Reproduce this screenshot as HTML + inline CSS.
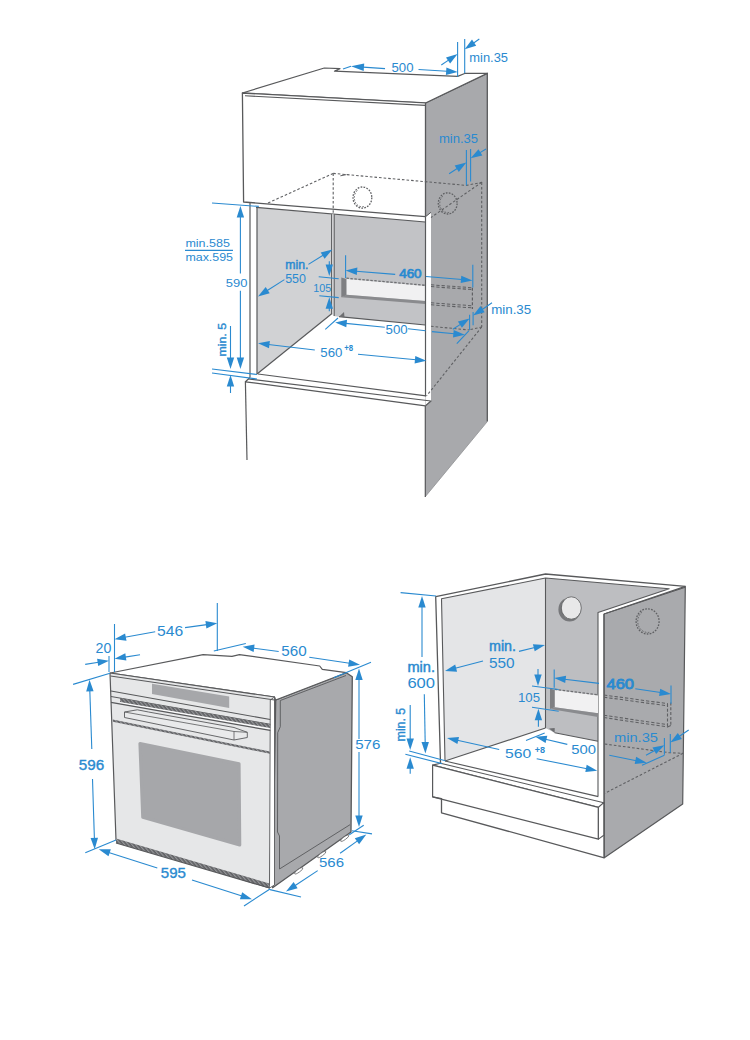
<!DOCTYPE html>
<html><head><meta charset="utf-8"><style>
html,body{margin:0;padding:0;background:#fff;}
svg{display:block;}
text{font-family:"Liberation Sans",sans-serif;}
</style></head><body>
<svg width="750" height="1040" viewBox="0 0 750 1040">
<defs><pattern id="hatch" width="2.8" height="2.8" patternUnits="userSpaceOnUse" patternTransform="rotate(-40)"><rect width="2.8" height="2.8" fill="#5e5f62"/><rect width="1.2" height="2.8" fill="#96979a"/></pattern></defs>
<rect width="750" height="1040" fill="#fff"/>
<polyline points="245.4,381.8 247.0,460.0" fill="none" stroke="#58595b" stroke-width="1.2" stroke-linejoin="round" />
<polygon points="425.5,103.0 487.3,73.3 487.3,421.6 425.0,497.0 425.0,103.0" fill="#a8a9ac" stroke="none" stroke-width="1.2" stroke-linejoin="round" />
<polyline points="425.5,103.0 487.3,73.3 487.3,421.6" fill="none" stroke="#58595b" stroke-width="1.3" stroke-linejoin="round" />
<polyline points="487.3,421.6 425.0,497.0" fill="none" stroke="#8e8f92" stroke-width="0.8" stroke-linejoin="round" />
<polygon points="242.4,93.0 324.3,68.0 340.0,68.6 334.5,71.2 457.6,76.4 465.3,73.3 487.3,73.3 425.5,103.0" fill="#fff" stroke="#58595b" stroke-width="1.2" stroke-linejoin="round" />
<polygon points="242.4,93.0 425.5,102.8 425.5,216.7 243.6,202.0" fill="#fff" stroke="#58595b" stroke-width="1.3" stroke-linejoin="round" />
<polyline points="245.0,95.8 425.5,105.4" fill="none" stroke="#58595b" stroke-width="1.1" stroke-linejoin="round" />
<polygon points="257.0,207.8 332.0,214.2 332.0,313.5 257.0,374.0" fill="#d1d2d4" stroke="none" stroke-width="1.2" stroke-linejoin="round" />
<polygon points="333.5,214.3 425.3,222.0 425.3,325.0 339.0,316.7 333.5,316.0" fill="#c2c3c6" stroke="none" stroke-width="1.2" stroke-linejoin="round" />
<polygon points="346.4,279.0 425.3,286.0 425.3,301.0 346.4,294.7" fill="#f1f1f2" stroke="none" stroke-width="1.2" stroke-linejoin="round" />
<polygon points="341.3,277.5 346.4,279.0 346.4,295.5 341.3,297.3" fill="#7e7f82" stroke="none" stroke-width="1.2" stroke-linejoin="round" />
<polygon points="346.4,294.7 425.3,301.0 425.3,304.0 341.3,297.3" fill="#8a8b8e" stroke="none" stroke-width="1.2" stroke-linejoin="round" />
<polyline points="346.4,278.2 425.3,285.3" fill="none" stroke="#6d6e71" stroke-width="1.3" stroke-linejoin="round" stroke-dasharray="2.5,1.5" />
<polyline points="250.0,203.0 250.0,377.5" fill="none" stroke="#58595b" stroke-width="1.2" stroke-linejoin="round" />
<polyline points="257.0,207.6 257.0,374.0" fill="none" stroke="#58595b" stroke-width="1.2" stroke-linejoin="round" />
<polyline points="256.0,207.3 425.3,222.0" fill="none" stroke="#58595b" stroke-width="1.2" stroke-linejoin="round" />
<polygon points="332.0,214.2 334.0,214.4 334.0,316.0 332.0,314.0" fill="#dcdcde" stroke="none" stroke-width="1.2" stroke-linejoin="round" />
<polyline points="331.6,214.2 331.6,313.8" fill="none" stroke="#58595b" stroke-width="1" stroke-linejoin="round" />
<polyline points="334.2,214.4 334.2,316.0" fill="none" stroke="#58595b" stroke-width="1" stroke-linejoin="round" />
<polyline points="257.0,374.0 332.0,313.5" fill="none" stroke="#58595b" stroke-width="1.2" stroke-linejoin="round" />
<polyline points="339.0,316.7 425.3,325.0" fill="none" stroke="#58595b" stroke-width="1.2" stroke-linejoin="round" />
<polygon points="339.0,316.7 344.0,312.0 344.5,317.2" fill="#6d6e71" stroke="none" stroke-width="1.2" stroke-linejoin="round" />
<polyline points="258.0,374.0 426.0,395.8" fill="none" stroke="#58595b" stroke-width="1.2" stroke-linejoin="round" />
<polygon points="425.5,217.0 431.0,212.3 431.0,401.0 425.5,405.8" fill="#fff" stroke="none" stroke-width="1.2" stroke-linejoin="round" />
<polyline points="425.5,216.5 425.5,396.5" fill="none" stroke="#58595b" stroke-width="1.2" stroke-linejoin="round" />
<polyline points="425.5,216.7 431.0,212.3" fill="none" stroke="#58595b" stroke-width="1" stroke-linejoin="round" />
<polyline points="248.2,379.0 431.0,401.0 425.5,405.8" fill="none" stroke="#58595b" stroke-width="1.2" stroke-linejoin="round" />
<polyline points="250.0,377.5 245.4,381.8 425.5,405.8" fill="none" stroke="#58595b" stroke-width="1.2" stroke-linejoin="round" />
<polyline points="425.3,406.0 425.3,497.0" fill="none" stroke="#58595b" stroke-width="1.2" stroke-linejoin="round" />
<polyline points="268.0,203.0 333.2,173.4" fill="none" stroke="#5f6063" stroke-width="1.1" stroke-linejoin="round" stroke-dasharray="2.6,2" />
<polyline points="333.2,173.4 466.4,185.4 482.2,182.3" fill="none" stroke="#5f6063" stroke-width="1.1" stroke-linejoin="round" stroke-dasharray="2.6,2" />
<polyline points="333.2,173.4 333.2,213.0" fill="none" stroke="#5f6063" stroke-width="1.1" stroke-linejoin="round" stroke-dasharray="2.6,2" />
<polyline points="340.4,175.8 346.4,174.6" fill="none" stroke="#5f6063" stroke-width="1" stroke-linejoin="round" />
<polyline points="481.7,182.3 431.0,217.5" fill="none" stroke="#5f6063" stroke-width="1.1" stroke-linejoin="round" stroke-dasharray="2.6,2" />
<polyline points="481.7,182.3 481.7,327.0" fill="none" stroke="#5f6063" stroke-width="1.1" stroke-linejoin="round" stroke-dasharray="2.6,2" />
<polyline points="431.0,326.3 469.5,330.0" fill="none" stroke="#5f6063" stroke-width="1.1" stroke-linejoin="round" stroke-dasharray="2.6,2" />
<polyline points="470.5,329.5 481.7,327.0" fill="none" stroke="#5f6063" stroke-width="1.1" stroke-linejoin="round" stroke-dasharray="2.6,2" />
<polyline points="481.7,327.0 426.5,396.0" fill="none" stroke="#5f6063" stroke-width="1.1" stroke-linejoin="round" stroke-dasharray="2.6,2" />
<polyline points="431.0,284.8 472.4,287.8" fill="none" stroke="#5f6063" stroke-width="1.05" stroke-linejoin="round" stroke-dasharray="3.3,2" />
<polyline points="431.0,286.6 472.4,289.6" fill="none" stroke="#5f6063" stroke-width="1.05" stroke-linejoin="round" stroke-dasharray="3.3,2" />
<polyline points="431.0,302.8 472.4,305.8" fill="none" stroke="#5f6063" stroke-width="1.05" stroke-linejoin="round" stroke-dasharray="3.3,2" />
<polyline points="431.0,304.8 472.4,307.9" fill="none" stroke="#5f6063" stroke-width="1.05" stroke-linejoin="round" stroke-dasharray="3.3,2" />
<polyline points="472.4,287.8 472.4,309.0" fill="none" stroke="#5f6063" stroke-width="1.2" stroke-linejoin="round" stroke-dasharray="3,1.8" />
<ellipse cx="362.4" cy="197.6" rx="9.4" ry="10.6" fill="none" stroke="#5f6063" stroke-width="1.3" stroke-dasharray="1.7,1.3"/>
<path d="M363.8,206.6 A7.9,9.1 0 0 1 358.4,189.7" fill="none" stroke="#5f6063" stroke-width="1" stroke-dasharray="1.5,1.5"/>
<ellipse cx="447.7" cy="203.4" rx="9.4" ry="10.6" fill="none" stroke="#5f6063" stroke-width="1.3" stroke-dasharray="1.7,1.3"/>
<path d="M449.1,212.4 A7.9,9.1 0 0 1 443.8,195.5" fill="none" stroke="#5f6063" stroke-width="1" stroke-dasharray="1.5,1.5"/>
<polyline points="385.0,68.6 363.0,67.1" fill="none" stroke="#2a8ad0" stroke-width="1.1" stroke-linejoin="round" />
<polygon points="351.0,66.3 364.2,63.5 363.7,70.9" fill="#2a8ad0" stroke="none" stroke-width="1.2" stroke-linejoin="round" />
<polyline points="343.0,69.0 351.0,66.3" fill="none" stroke="#2a8ad0" stroke-width="1.1" stroke-linejoin="round" />
<polyline points="418.5,69.5 447.1,71.3" fill="none" stroke="#2a8ad0" stroke-width="1.1" stroke-linejoin="round" />
<polygon points="457.6,72.0 445.9,75.0 446.4,67.6" fill="#2a8ad0" stroke="none" stroke-width="1.2" stroke-linejoin="round" />
<text x="391.5" y="71.7" font-size="12.5" text-anchor="start" font-weight="normal" fill="#2a8ad0" textLength="22" lengthAdjust="spacingAndGlyphs" >500</text>
<polyline points="457.6,42.0 457.6,76.7" fill="none" stroke="#2a8ad0" stroke-width="1.1" stroke-linejoin="round" />
<polyline points="464.7,39.0 464.7,73.3" fill="none" stroke="#2a8ad0" stroke-width="1.1" stroke-linejoin="round" />
<polyline points="441.3,65.0 448.9,59.9" fill="none" stroke="#2a8ad0" stroke-width="1.1" stroke-linejoin="round" />
<polygon points="457.6,54.0 450.1,63.5 446.0,57.4" fill="#2a8ad0" stroke="none" stroke-width="1.2" stroke-linejoin="round" />
<polyline points="479.3,39.0 473.3,43.2" fill="none" stroke="#2a8ad0" stroke-width="1.1" stroke-linejoin="round" />
<polygon points="464.7,49.3 472.0,39.6 476.2,45.7" fill="#2a8ad0" stroke="none" stroke-width="1.2" stroke-linejoin="round" />
<text x="469.3" y="62" font-size="12" text-anchor="start" font-weight="normal" fill="#2a8ad0" textLength="38.7" lengthAdjust="spacingAndGlyphs" >min.35</text>
<text x="438.9" y="142.9" font-size="12" text-anchor="start" font-weight="normal" fill="#2a8ad0" textLength="39.2" lengthAdjust="spacingAndGlyphs" >min.35</text>
<polyline points="466.4,149.9 466.4,185.4" fill="none" stroke="#2a8ad0" stroke-width="1.1" stroke-linejoin="round" />
<polyline points="470.6,149.0 470.6,181.6" fill="none" stroke="#2a8ad0" stroke-width="1.1" stroke-linejoin="round" />
<polyline points="449.1,173.7 457.6,168.2" fill="none" stroke="#2a8ad0" stroke-width="1.1" stroke-linejoin="round" />
<polygon points="466.4,162.5 458.8,171.9 454.7,165.6" fill="#2a8ad0" stroke="none" stroke-width="1.2" stroke-linejoin="round" />
<polyline points="486.0,149.0 479.6,152.9" fill="none" stroke="#2a8ad0" stroke-width="1.1" stroke-linejoin="round" />
<polygon points="470.6,158.3 478.5,149.2 482.4,155.5" fill="#2a8ad0" stroke="none" stroke-width="1.2" stroke-linejoin="round" />
<text x="185.4" y="246.6" font-size="10.5" text-anchor="start" font-weight="normal" fill="#2a8ad0" textLength="44.6" lengthAdjust="spacingAndGlyphs" >min.585</text>
<polyline points="185.0,250.4 233.0,250.4" fill="none" stroke="#2a8ad0" stroke-width="1.1" stroke-linejoin="round" />
<text x="185.4" y="260.8" font-size="10.5" text-anchor="start" font-weight="normal" fill="#2a8ad0" textLength="47.6" lengthAdjust="spacingAndGlyphs" >max.595</text>
<polyline points="212.0,203.0 258.8,206.4" fill="none" stroke="#2a8ad0" stroke-width="1.1" stroke-linejoin="round" />
<polyline points="240.4,273.4 240.4,216.5" fill="none" stroke="#2a8ad0" stroke-width="1.1" stroke-linejoin="round" />
<polygon points="240.4,206.0 244.1,217.5 236.7,217.5" fill="#2a8ad0" stroke="none" stroke-width="1.2" stroke-linejoin="round" />
<polyline points="240.4,290.8 240.4,358.5" fill="none" stroke="#2a8ad0" stroke-width="1.1" stroke-linejoin="round" />
<polygon points="240.4,369.0 236.7,357.5 244.1,357.5" fill="#2a8ad0" stroke="none" stroke-width="1.2" stroke-linejoin="round" />
<text x="225.8" y="286.6" font-size="11.7" text-anchor="start" font-weight="normal" fill="#2a8ad0" textLength="21.6" lengthAdjust="spacingAndGlyphs" >590</text>
<polyline points="230.5,326.0 230.5,358.5" fill="none" stroke="#2a8ad0" stroke-width="1.1" stroke-linejoin="round" />
<polygon points="230.5,369.0 226.8,357.5 234.2,357.5" fill="#2a8ad0" stroke="none" stroke-width="1.2" stroke-linejoin="round" />
<polyline points="230.5,393.0 230.5,385.5" fill="none" stroke="#2a8ad0" stroke-width="1.1" stroke-linejoin="round" />
<polygon points="230.5,375.0 234.2,386.5 226.8,386.5" fill="#2a8ad0" stroke="none" stroke-width="1.2" stroke-linejoin="round" />
<polyline points="212.0,369.0 257.0,374.5" fill="none" stroke="#2a8ad0" stroke-width="1.1" stroke-linejoin="round" />
<polyline points="212.0,373.0 257.0,379.0" fill="none" stroke="#2a8ad0" stroke-width="1.1" stroke-linejoin="round" />
<text transform="translate(226,356.5) rotate(-90)" font-size="11.5" fill="#2a8ad0" textLength="33.5" lengthAdjust="spacingAndGlyphs" font-weight="normal" stroke="#2a8ad0" stroke-width="0.4">min. 5</text>
<text x="285.2" y="268.7" font-size="12.5" text-anchor="start" font-weight="normal" fill="#2a8ad0" stroke="#2a8ad0" stroke-width="0.45" textLength="23.2" lengthAdjust="spacingAndGlyphs" >min.</text>
<text x="285.2" y="282.5" font-size="12" text-anchor="start" font-weight="normal" fill="#2a8ad0" textLength="20.8" lengthAdjust="spacingAndGlyphs" >550</text>
<polyline points="284.4,279.6 266.9,290.8" fill="none" stroke="#2a8ad0" stroke-width="1.1" stroke-linejoin="round" />
<polygon points="258.0,296.4 265.7,287.1 269.7,293.3" fill="#2a8ad0" stroke="none" stroke-width="1.2" stroke-linejoin="round" />
<polyline points="308.4,264.4 323.5,255.0" fill="none" stroke="#2a8ad0" stroke-width="1.1" stroke-linejoin="round" />
<polygon points="332.4,249.5 324.6,258.7 320.7,252.4" fill="#2a8ad0" stroke="none" stroke-width="1.2" stroke-linejoin="round" />
<text x="313.3" y="291.6" font-size="11.5" text-anchor="start" font-weight="normal" fill="#2a8ad0" textLength="18" lengthAdjust="spacingAndGlyphs" >105</text>
<polyline points="318.7,276.7 338.7,278.7" fill="none" stroke="#2a8ad0" stroke-width="1.1" stroke-linejoin="round" />
<polyline points="319.3,295.7 338.7,297.6" fill="none" stroke="#2a8ad0" stroke-width="1.1" stroke-linejoin="round" />
<polyline points="329.3,261.3 329.3,265.5" fill="none" stroke="#2a8ad0" stroke-width="1.1" stroke-linejoin="round" />
<polygon points="329.3,276.0 325.6,264.5 333.0,264.5" fill="#2a8ad0" stroke="none" stroke-width="1.2" stroke-linejoin="round" />
<polyline points="329.3,311.3 329.3,307.8" fill="none" stroke="#2a8ad0" stroke-width="1.1" stroke-linejoin="round" />
<polygon points="329.3,297.3 333.0,308.8 325.6,308.8" fill="#2a8ad0" stroke="none" stroke-width="1.2" stroke-linejoin="round" />
<polyline points="345.6,255.3 345.6,278.0" fill="none" stroke="#2a8ad0" stroke-width="1.1" stroke-linejoin="round" />
<polyline points="472.8,264.8 472.8,287.6" fill="none" stroke="#2a8ad0" stroke-width="1.1" stroke-linejoin="round" />
<polyline points="395.2,274.4 356.1,271.2" fill="none" stroke="#2a8ad0" stroke-width="1.1" stroke-linejoin="round" />
<polygon points="345.6,270.4 357.4,267.6 356.8,275.0" fill="#2a8ad0" stroke="none" stroke-width="1.2" stroke-linejoin="round" />
<polyline points="426.0,276.5 462.0,279.5" fill="none" stroke="#2a8ad0" stroke-width="1.1" stroke-linejoin="round" />
<polygon points="472.5,280.4 460.7,283.1 461.3,275.8" fill="#2a8ad0" stroke="none" stroke-width="1.2" stroke-linejoin="round" />
<text x="399.2" y="277.6" font-size="12.5" text-anchor="start" font-weight="normal" fill="#2a8ad0" stroke="#2a8ad0" stroke-width="0.7" textLength="22.4" lengthAdjust="spacingAndGlyphs" >460</text>
<polyline points="384.8,327.2 345.7,323.4" fill="none" stroke="#2a8ad0" stroke-width="1.1" stroke-linejoin="round" />
<polygon points="335.2,322.4 347.0,319.8 346.3,327.2" fill="#2a8ad0" stroke="none" stroke-width="1.2" stroke-linejoin="round" />
<polyline points="408.0,328.8 425.6,330.8" fill="none" stroke="#2a8ad0" stroke-width="1.1" stroke-linejoin="round" />
<polyline points="432.0,331.6 454.3,333.8" fill="none" stroke="#2a8ad0" stroke-width="1.1" stroke-linejoin="round" />
<polygon points="464.8,334.8 453.0,337.4 453.7,330.0" fill="#2a8ad0" stroke="none" stroke-width="1.2" stroke-linejoin="round" />
<text x="385.6" y="333.6" font-size="12" text-anchor="start" font-weight="normal" fill="#2a8ad0" textLength="22.1" lengthAdjust="spacingAndGlyphs" >500</text>
<polyline points="325.3,329.3 338.0,318.0" fill="none" stroke="#2a8ad0" stroke-width="1.1" stroke-linejoin="round" />
<polyline points="456.8,343.6 468.8,330.8" fill="none" stroke="#2a8ad0" stroke-width="1.1" stroke-linejoin="round" />
<polyline points="469.6,314.8 469.6,330.0" fill="none" stroke="#2a8ad0" stroke-width="1.1" stroke-linejoin="round" />
<polyline points="473.1,312.0 473.1,325.2" fill="none" stroke="#2a8ad0" stroke-width="1.1" stroke-linejoin="round" />
<polyline points="452.8,329.2 460.8,324.1" fill="none" stroke="#2a8ad0" stroke-width="1.1" stroke-linejoin="round" />
<polygon points="469.6,318.4 461.9,327.7 457.9,321.5" fill="#2a8ad0" stroke="none" stroke-width="1.2" stroke-linejoin="round" />
<polyline points="492.0,302.8 481.8,309.7" fill="none" stroke="#2a8ad0" stroke-width="1.1" stroke-linejoin="round" />
<polygon points="473.1,315.6 480.5,306.1 484.7,312.2" fill="#2a8ad0" stroke="none" stroke-width="1.2" stroke-linejoin="round" />
<text x="491.2" y="313.5" font-size="12" text-anchor="start" font-weight="normal" fill="#2a8ad0" textLength="40" lengthAdjust="spacingAndGlyphs" >min.35</text>
<polyline points="314.8,350.0 268.4,344.5" fill="none" stroke="#2a8ad0" stroke-width="1.1" stroke-linejoin="round" />
<polygon points="258.0,343.3 269.9,341.0 269.0,348.3" fill="#2a8ad0" stroke="none" stroke-width="1.2" stroke-linejoin="round" />
<polyline points="358.0,354.3 415.9,359.8" fill="none" stroke="#2a8ad0" stroke-width="1.1" stroke-linejoin="round" />
<polygon points="426.4,360.8 414.6,363.4 415.3,356.0" fill="#2a8ad0" stroke="none" stroke-width="1.2" stroke-linejoin="round" />
<text x="320.3" y="357.2" font-size="13.5" text-anchor="start" font-weight="normal" fill="#2a8ad0" textLength="22.1" lengthAdjust="spacingAndGlyphs" >560</text>
<text x="344.3" y="351.4" font-size="8.5" text-anchor="start" font-weight="bold" fill="#2a8ad0" textLength="8.9" lengthAdjust="spacingAndGlyphs" >+8</text>
<polygon points="275.7,700.0 346.3,672.7 352.3,676.7 351.0,832.0 272.6,887.7" fill="#a8a9ac" stroke="#58595b" stroke-width="1.3" stroke-linejoin="round" />
<polyline points="280.3,700.5 346.0,675.5" fill="none" stroke="#58595b" stroke-width="0.9" stroke-linejoin="round" />
<polyline points="280.3,700.5 280.3,726.7 277.7,732.7 277.5,832.0 279.5,836.0 279.5,869.0 350.0,824.7" fill="none" stroke="#58595b" stroke-width="0.9" stroke-linejoin="round" />
<ellipse cx="344.7" cy="838.2" rx="5" ry="1.4" transform="rotate(-35.4 344.7 838.2)" fill="#fff" stroke="#58595b" stroke-width="0.7"/>
<ellipse cx="321.7" cy="854.5" rx="5" ry="1.4" transform="rotate(-35.4 321.7 854.5)" fill="#fff" stroke="#58595b" stroke-width="0.7"/>
<ellipse cx="298.7" cy="870.8" rx="5" ry="1.4" transform="rotate(-35.4 298.7 870.8)" fill="#fff" stroke="#58595b" stroke-width="0.7"/>
<polygon points="110.3,673.0 203.1,654.6 232.0,656.3 239.4,654.6 319.7,666.0 322.3,669.3 346.3,672.7 275.7,700.0 274.5,697.0" fill="#fff" stroke="#58595b" stroke-width="1.2" stroke-linejoin="round" />
<polygon points="110.0,673.0 274.5,697.0 269.5,888.0 116.0,840.0" fill="#e6e7e8" stroke="#58595b" stroke-width="1.2" stroke-linejoin="round" />
<polygon points="270.3,700.0 274.5,697.0 274.5,885.0 269.5,888.0" fill="#fff" stroke="#58595b" stroke-width="0.9" stroke-linejoin="round" />
<polyline points="110.5,676.0 274.5,700.0" fill="none" stroke="#58595b" stroke-width="1" stroke-linejoin="round" />
<polyline points="111.0,691.0 270.3,719.5" fill="none" stroke="#58595b" stroke-width="1.1" stroke-linejoin="round" />
<polyline points="111.0,696.5 270.3,724.3" fill="none" stroke="#58595b" stroke-width="1" stroke-linejoin="round" />
<polygon points="152.0,683.8 229.2,696.5 229.2,707.9 152.0,694.0" fill="#a6a7aa" stroke="none" stroke-width="1.2" stroke-linejoin="round" />
<polygon points="120.0,698.1 270.3,724.3 270.3,728.0 120.0,702.0" fill="url(#hatch)" stroke="none" stroke-width="1.2" stroke-linejoin="round" />
<polyline points="120.0,702.8 270.3,729.0" fill="none" stroke="#fff" stroke-width="1" stroke-linejoin="round" />
<polyline points="111.0,702.3 270.3,730.4" fill="none" stroke="#58595b" stroke-width="1.2" stroke-linejoin="round" />
<polygon points="124.5,712.0 137.3,709.8 148.5,712.0 234.0,727.5 247.3,732.3 247.3,737.5 234.0,740.0 124.5,717.5" fill="#e9eaeb" stroke="#58595b" stroke-width="0.9" stroke-linejoin="round" />
<polyline points="124.5,712.0 234.0,731.5 247.3,732.3" fill="none" stroke="#58595b" stroke-width="0.8" stroke-linejoin="round" />
<polyline points="234.0,731.5 234.0,740.0" fill="none" stroke="#58595b" stroke-width="0.8" stroke-linejoin="round" />
<polygon points="112.8,719.5 270.0,751.5 270.0,753.8 112.8,721.8" fill="url(#hatch)" stroke="none" stroke-width="1.2" stroke-linejoin="round" />
<polygon points="140,743.5 239,763.8 239.7,845 142.8,817.2" fill="#a6a7aa" stroke="#a6a7aa" stroke-width="3.2" stroke-linejoin="round"/>
<polygon points="116.0,838.5 269.5,883.5 269.5,888.0 116.0,843.0" fill="url(#hatch)" stroke="none" stroke-width="1.2" stroke-linejoin="round" />
<polyline points="116.0,843.0 269.5,888.0" fill="none" stroke="#58595b" stroke-width="1.2" stroke-linejoin="round" />
<polyline points="114.5,624.0 114.5,672.0" fill="none" stroke="#2a8ad0" stroke-width="1.1" stroke-linejoin="round" />
<polyline points="109.0,656.0 109.0,672.0" fill="none" stroke="#2a8ad0" stroke-width="1.1" stroke-linejoin="round" />
<polyline points="155.2,631.7 124.8,637.3" fill="none" stroke="#2a8ad0" stroke-width="1.1" stroke-linejoin="round" />
<polygon points="114.5,639.2 125.1,633.5 126.5,640.8" fill="#2a8ad0" stroke="none" stroke-width="1.2" stroke-linejoin="round" />
<polyline points="185.0,627.6 206.9,624.6" fill="none" stroke="#2a8ad0" stroke-width="1.1" stroke-linejoin="round" />
<polygon points="217.3,623.2 206.4,628.4 205.4,621.1" fill="#2a8ad0" stroke="none" stroke-width="1.2" stroke-linejoin="round" />
<text x="157" y="636" font-size="14.5" text-anchor="start" font-weight="normal" fill="#2a8ad0" textLength="26.2" lengthAdjust="spacingAndGlyphs" >546</text>
<polyline points="217.3,603.0 217.3,651.0" fill="none" stroke="#2a8ad0" stroke-width="1.1" stroke-linejoin="round" />
<polyline points="85.2,664.4 98.6,662.3" fill="none" stroke="#2a8ad0" stroke-width="1.1" stroke-linejoin="round" />
<polygon points="109.0,660.7 98.2,666.1 97.1,658.8" fill="#2a8ad0" stroke="none" stroke-width="1.2" stroke-linejoin="round" />
<polyline points="140.0,654.7 124.9,657.1" fill="none" stroke="#2a8ad0" stroke-width="1.1" stroke-linejoin="round" />
<polygon points="114.5,658.8 125.3,653.3 126.4,660.6" fill="#2a8ad0" stroke="none" stroke-width="1.2" stroke-linejoin="round" />
<text x="95.5" y="652.6" font-size="14" text-anchor="start" font-weight="normal" fill="#2a8ad0" textLength="15.8" lengthAdjust="spacingAndGlyphs" >20</text>
<polyline points="213.8,651.0 245.8,643.5" fill="none" stroke="#2a8ad0" stroke-width="1.1" stroke-linejoin="round" />
<polyline points="278.7,651.5 253.1,648.1" fill="none" stroke="#2a8ad0" stroke-width="1.1" stroke-linejoin="round" />
<polygon points="242.7,646.7 254.6,644.6 253.6,651.9" fill="#2a8ad0" stroke="none" stroke-width="1.2" stroke-linejoin="round" />
<polyline points="309.3,657.3 349.6,663.3" fill="none" stroke="#2a8ad0" stroke-width="1.1" stroke-linejoin="round" />
<polygon points="360.0,664.8 348.1,666.8 349.2,659.5" fill="#2a8ad0" stroke="none" stroke-width="1.2" stroke-linejoin="round" />
<text x="281.3" y="656" font-size="14" text-anchor="start" font-weight="normal" fill="#2a8ad0" textLength="25.4" lengthAdjust="spacingAndGlyphs" >560</text>
<polyline points="333.7,677.7 371.0,662.2" fill="none" stroke="#2a8ad0" stroke-width="1.1" stroke-linejoin="round" />
<polyline points="359.0,739.0 359.0,678.9" fill="none" stroke="#2a8ad0" stroke-width="1.1" stroke-linejoin="round" />
<polygon points="359.0,668.4 362.7,679.9 355.3,679.9" fill="#2a8ad0" stroke="none" stroke-width="1.2" stroke-linejoin="round" />
<polyline points="359.0,752.0 359.0,816.5" fill="none" stroke="#2a8ad0" stroke-width="1.1" stroke-linejoin="round" />
<polygon points="359.0,827.0 355.3,815.5 362.7,815.5" fill="#2a8ad0" stroke="none" stroke-width="1.2" stroke-linejoin="round" />
<text x="355.2" y="748.7" font-size="13.5" text-anchor="start" font-weight="normal" fill="#2a8ad0" textLength="25.2" lengthAdjust="spacingAndGlyphs" >576</text>
<polyline points="73.1,684.4 110.0,673.2" fill="none" stroke="#2a8ad0" stroke-width="1.1" stroke-linejoin="round" />
<polyline points="91.8,749.0 89.8,690.3" fill="none" stroke="#2a8ad0" stroke-width="1.1" stroke-linejoin="round" />
<polygon points="89.5,679.8 93.6,691.2 86.2,691.4" fill="#2a8ad0" stroke="none" stroke-width="1.2" stroke-linejoin="round" />
<polyline points="92.5,779.0 94.4,838.8" fill="none" stroke="#2a8ad0" stroke-width="1.1" stroke-linejoin="round" />
<polygon points="94.7,849.3 90.6,837.9 98.0,837.7" fill="#2a8ad0" stroke="none" stroke-width="1.2" stroke-linejoin="round" />
<text x="78.8" y="769.8" font-size="14" text-anchor="start" font-weight="normal" fill="#2a8ad0" stroke="#2a8ad0" stroke-width="0.35" textLength="25.4" lengthAdjust="spacingAndGlyphs" >596</text>
<polyline points="85.3,852.8 116.0,840.0" fill="none" stroke="#2a8ad0" stroke-width="1.1" stroke-linejoin="round" />
<polyline points="157.3,868.0 108.7,852.5" fill="none" stroke="#2a8ad0" stroke-width="1.1" stroke-linejoin="round" />
<polygon points="98.7,849.3 110.8,849.3 108.5,856.3" fill="#2a8ad0" stroke="none" stroke-width="1.2" stroke-linejoin="round" />
<polyline points="192.0,880.0 242.0,896.0" fill="none" stroke="#2a8ad0" stroke-width="1.1" stroke-linejoin="round" />
<polygon points="252.0,899.2 239.9,899.2 242.2,892.2" fill="#2a8ad0" stroke="none" stroke-width="1.2" stroke-linejoin="round" />
<text x="160.8" y="878" font-size="14" text-anchor="start" font-weight="normal" fill="#2a8ad0" stroke="#2a8ad0" stroke-width="0.35" textLength="25.1" lengthAdjust="spacingAndGlyphs" >595</text>
<polyline points="244.0,906.0 270.0,889.0" fill="none" stroke="#2a8ad0" stroke-width="1.1" stroke-linejoin="round" />
<polyline points="270.0,889.6 301.0,897.0" fill="none" stroke="#2a8ad0" stroke-width="1.1" stroke-linejoin="round" />
<polyline points="317.7,870.6 294.8,885.7" fill="none" stroke="#2a8ad0" stroke-width="1.1" stroke-linejoin="round" />
<polygon points="286.0,891.5 293.6,882.1 297.6,888.3" fill="#2a8ad0" stroke="none" stroke-width="1.2" stroke-linejoin="round" />
<polyline points="340.1,853.2 357.8,840.6" fill="none" stroke="#2a8ad0" stroke-width="1.1" stroke-linejoin="round" />
<polygon points="366.3,834.5 359.1,844.2 354.8,838.2" fill="#2a8ad0" stroke="none" stroke-width="1.2" stroke-linejoin="round" />
<text x="319" y="867" font-size="13.5" text-anchor="start" font-weight="normal" fill="#2a8ad0" textLength="25" lengthAdjust="spacingAndGlyphs" >566</text>
<polyline points="349.3,834.7 363.7,825.3" fill="none" stroke="#2a8ad0" stroke-width="1.1" stroke-linejoin="round" />
<polyline points="352.0,830.7 372.0,833.9" fill="none" stroke="#2a8ad0" stroke-width="1.1" stroke-linejoin="round" />
<polygon points="604.0,614.0 685.3,586.4 682.7,804.0 604.3,857.8" fill="#a9aaad" stroke="#58595b" stroke-width="1.2" stroke-linejoin="round" />
<polygon points="545.5,578.0 669.2,588.8 598.0,612.5 598.0,741.3 554.7,732.7 545.5,728.0" fill="#bdbec1" stroke="none" stroke-width="1.2" stroke-linejoin="round" />
<polygon points="441.5,598.8 545.5,578.0 545.5,728.0 445.0,761.0" fill="#e4e5e7" stroke="none" stroke-width="1.2" stroke-linejoin="round" />
<polygon points="435.7,596.7 545.5,574.0 545.5,578.0 441.5,598.8 445.0,761.0 440.5,763.0" fill="#fff" stroke="none" stroke-width="1.2" stroke-linejoin="round" />
<polyline points="440.5,763.0 435.7,596.7 545.5,574.0 685.3,586.4" fill="none" stroke="#58595b" stroke-width="1.3" stroke-linejoin="round" />
<polyline points="445.0,761.0 441.5,598.8 545.5,578.0 669.2,588.8 598.0,612.5 598.0,796.0" fill="none" stroke="#58595b" stroke-width="1.1" stroke-linejoin="round" />
<polyline points="604.0,614.0 685.3,587.3" fill="none" stroke="#58595b" stroke-width="1" stroke-linejoin="round" />
<polyline points="604.0,614.0 604.0,857.6" fill="none" stroke="#58595b" stroke-width="1.1" stroke-linejoin="round" />
<polyline points="545.5,578.0 545.5,728.0" fill="none" stroke="#58595b" stroke-width="1.1" stroke-linejoin="round" />
<polyline points="445.0,761.0 545.5,728.0" fill="none" stroke="#58595b" stroke-width="1.1" stroke-linejoin="round" />
<polyline points="554.7,732.7 598.0,741.3" fill="none" stroke="#58595b" stroke-width="1.1" stroke-linejoin="round" />
<polygon points="549.0,728.5 554.7,728.0 554.7,733.0" fill="#6d6e71" stroke="none" stroke-width="1.2" stroke-linejoin="round" />
<polyline points="445.0,761.0 598.4,796.6" fill="none" stroke="#58595b" stroke-width="1.1" stroke-linejoin="round" />
<polygon points="554.7,690.0 598.0,695.5 598.0,713.3 554.7,707.3" fill="#f1f1f2" stroke="none" stroke-width="1.2" stroke-linejoin="round" />
<polygon points="550.0,688.5 554.7,690.0 554.7,707.3 550.0,709.0" fill="#7e7f82" stroke="none" stroke-width="1.2" stroke-linejoin="round" />
<polygon points="554.7,707.3 598.0,713.3 598.0,717.0 550.0,709.0" fill="#8a8b8e" stroke="none" stroke-width="1.2" stroke-linejoin="round" />
<polyline points="554.7,689.3 598.0,694.8" fill="none" stroke="#6d6e71" stroke-width="1.3" stroke-linejoin="round" stroke-dasharray="2.5,1.5" />
<polyline points="604.0,695.0 668.0,703.7" fill="none" stroke="#5f6063" stroke-width="1.05" stroke-linejoin="round" stroke-dasharray="3.3,2" />
<polyline points="604.0,697.2 668.0,705.9" fill="none" stroke="#5f6063" stroke-width="1.05" stroke-linejoin="round" stroke-dasharray="3.3,2" />
<polyline points="604.0,715.3 668.0,724.7" fill="none" stroke="#5f6063" stroke-width="1.05" stroke-linejoin="round" stroke-dasharray="3.3,2" />
<polyline points="604.0,717.6 668.0,727.0" fill="none" stroke="#5f6063" stroke-width="1.05" stroke-linejoin="round" stroke-dasharray="3.3,2" />
<polyline points="667.5,704.0 667.5,727.0" fill="none" stroke="#5f6063" stroke-width="1.1" stroke-linejoin="round" stroke-dasharray="3,1.8" />
<polyline points="670.8,702.5 670.8,725.5" fill="none" stroke="#5f6063" stroke-width="1.1" stroke-linejoin="round" stroke-dasharray="3,1.8" />
<polyline points="667.5,727.0 670.8,725.5" fill="none" stroke="#5f6063" stroke-width="1.1" stroke-linejoin="round" />
<polyline points="604.7,744.0 669.3,752.7 683.0,753.3" fill="none" stroke="#5f6063" stroke-width="1.1" stroke-linejoin="round" stroke-dasharray="2.6,2" />
<polyline points="683.0,753.3 604.7,793.3" fill="none" stroke="#5f6063" stroke-width="1.1" stroke-linejoin="round" stroke-dasharray="2.6,2" />
<ellipse cx="647.6" cy="621.4" rx="11.5" ry="12.6" fill="none" stroke="#5f6063" stroke-width="1.3" stroke-dasharray="1.7,1.3"/>
<path d="M649.3,632.3 A10.0,11.1 0 0 1 642.6,611.8" fill="none" stroke="#5f6063" stroke-width="1" stroke-dasharray="1.5,1.5"/>
<ellipse cx="569.6" cy="609.4" rx="11.2" ry="12" fill="#77787b"/>
<ellipse cx="571.3" cy="608" rx="10" ry="11.2" fill="#e8e8e9" stroke="#58595b" stroke-width="0.8"/>
<polygon points="432.6,765.1 440.5,763.2 603.8,802.7 598.4,807.3" fill="#fff" stroke="#58595b" stroke-width="1.1" stroke-linejoin="round" />
<polygon points="432.6,765.1 598.4,807.3 598.4,839.1 432.6,796.8" fill="#fff" stroke="#58595b" stroke-width="1.2" stroke-linejoin="round" />
<polygon points="598.4,807.3 603.8,802.7 603.8,835.3 598.4,839.1" fill="#fff" stroke="#58595b" stroke-width="1.1" stroke-linejoin="round" />
<polyline points="432.6,796.8 441.5,798.6 441.5,812.8 604.3,857.8" fill="none" stroke="#58595b" stroke-width="1.3" stroke-linejoin="round" />
<polyline points="400.6,592.6 436.0,596.0" fill="none" stroke="#2a8ad0" stroke-width="1.1" stroke-linejoin="round" />
<polyline points="422.0,657.0 422.0,606.5" fill="none" stroke="#2a8ad0" stroke-width="1.1" stroke-linejoin="round" />
<polygon points="422.0,596.0 425.7,607.5 418.3,607.5" fill="#2a8ad0" stroke="none" stroke-width="1.2" stroke-linejoin="round" />
<polyline points="424.3,694.3 425.2,743.0" fill="none" stroke="#2a8ad0" stroke-width="1.1" stroke-linejoin="round" />
<polygon points="425.4,753.5 421.5,742.1 428.9,741.9" fill="#2a8ad0" stroke="none" stroke-width="1.2" stroke-linejoin="round" />
<text x="407.4" y="672" font-size="14" text-anchor="start" font-weight="normal" fill="#2a8ad0" stroke="#2a8ad0" stroke-width="0.45" textLength="27.6" lengthAdjust="spacingAndGlyphs" >min.</text>
<text x="407.4" y="688" font-size="14" text-anchor="start" font-weight="normal" fill="#2a8ad0" textLength="27.6" lengthAdjust="spacingAndGlyphs" >600</text>
<polyline points="410.2,704.9 410.2,739.6" fill="none" stroke="#2a8ad0" stroke-width="1.1" stroke-linejoin="round" />
<polygon points="410.2,750.1 406.5,738.6 413.9,738.6" fill="#2a8ad0" stroke="none" stroke-width="1.2" stroke-linejoin="round" />
<polyline points="410.2,773.7 410.2,767.8" fill="none" stroke="#2a8ad0" stroke-width="1.1" stroke-linejoin="round" />
<polygon points="410.2,757.3 413.9,768.8 406.5,768.8" fill="#2a8ad0" stroke="none" stroke-width="1.2" stroke-linejoin="round" />
<polyline points="409.2,751.0 445.3,760.7" fill="none" stroke="#2a8ad0" stroke-width="1.1" stroke-linejoin="round" />
<polyline points="405.4,754.2 441.9,763.6" fill="none" stroke="#2a8ad0" stroke-width="1.1" stroke-linejoin="round" />
<text transform="translate(405,741.4) rotate(-90)" font-size="12.5" fill="#2a8ad0" textLength="33.6" lengthAdjust="spacingAndGlyphs" font-weight="normal" stroke="#2a8ad0" stroke-width="0.4">min. 5</text>
<text x="489" y="651" font-size="14" text-anchor="start" font-weight="normal" fill="#2a8ad0" stroke="#2a8ad0" stroke-width="0.45" textLength="27" lengthAdjust="spacingAndGlyphs" >min.</text>
<text x="489" y="668" font-size="14" text-anchor="start" font-weight="normal" fill="#2a8ad0" textLength="25.6" lengthAdjust="spacingAndGlyphs" >550</text>
<polyline points="483.0,661.0 455.2,668.3" fill="none" stroke="#2a8ad0" stroke-width="1.1" stroke-linejoin="round" />
<polygon points="445.0,671.0 455.2,664.5 457.1,671.7" fill="#2a8ad0" stroke="none" stroke-width="1.2" stroke-linejoin="round" />
<polyline points="519.0,651.4 534.8,647.5" fill="none" stroke="#2a8ad0" stroke-width="1.1" stroke-linejoin="round" />
<polygon points="545.0,645.0 534.7,651.3 532.9,644.2" fill="#2a8ad0" stroke="none" stroke-width="1.2" stroke-linejoin="round" />
<text x="518" y="702" font-size="13" text-anchor="start" font-weight="normal" fill="#2a8ad0" textLength="22" lengthAdjust="spacingAndGlyphs" >105</text>
<polyline points="532.0,686.0 558.7,689.5" fill="none" stroke="#2a8ad0" stroke-width="1.1" stroke-linejoin="round" />
<polyline points="532.0,707.3 558.7,711.3" fill="none" stroke="#2a8ad0" stroke-width="1.1" stroke-linejoin="round" />
<polyline points="538.0,669.0 538.0,675.5" fill="none" stroke="#2a8ad0" stroke-width="1.1" stroke-linejoin="round" />
<polygon points="538.0,686.0 534.3,674.5 541.7,674.5" fill="#2a8ad0" stroke="none" stroke-width="1.2" stroke-linejoin="round" />
<polyline points="538.4,726.7 538.4,719.2" fill="none" stroke="#2a8ad0" stroke-width="1.1" stroke-linejoin="round" />
<polygon points="538.4,708.7 542.1,720.2 534.7,720.2" fill="#2a8ad0" stroke="none" stroke-width="1.2" stroke-linejoin="round" />
<polyline points="554.2,669.5 554.2,687.7" fill="none" stroke="#2a8ad0" stroke-width="1.1" stroke-linejoin="round" />
<polyline points="671.0,685.5 671.0,703.7" fill="none" stroke="#2a8ad0" stroke-width="1.1" stroke-linejoin="round" />
<polyline points="599.0,683.4 564.6,679.3" fill="none" stroke="#2a8ad0" stroke-width="1.1" stroke-linejoin="round" />
<polygon points="554.2,678.0 566.1,675.7 565.2,683.0" fill="#2a8ad0" stroke="none" stroke-width="1.2" stroke-linejoin="round" />
<polyline points="635.3,688.7 660.6,692.5" fill="none" stroke="#2a8ad0" stroke-width="1.1" stroke-linejoin="round" />
<polygon points="671.0,694.0 659.1,696.0 660.2,688.7" fill="#2a8ad0" stroke="none" stroke-width="1.2" stroke-linejoin="round" />
<text x="606.5" y="689.2" font-size="14.5" text-anchor="start" font-weight="normal" fill="#2a8ad0" stroke="#2a8ad0" stroke-width="0.8" textLength="27.5" lengthAdjust="spacingAndGlyphs" >460</text>
<polyline points="499.2,749.5 457.3,740.3" fill="none" stroke="#2a8ad0" stroke-width="1.1" stroke-linejoin="round" />
<polygon points="447.0,738.0 459.0,736.9 457.4,744.1" fill="#2a8ad0" stroke="none" stroke-width="1.2" stroke-linejoin="round" />
<polyline points="536.7,758.7 587.0,768.7" fill="none" stroke="#2a8ad0" stroke-width="1.1" stroke-linejoin="round" />
<polygon points="597.3,770.7 585.3,772.1 586.7,764.8" fill="#2a8ad0" stroke="none" stroke-width="1.2" stroke-linejoin="round" />
<text x="505" y="758" font-size="13.5" text-anchor="start" font-weight="normal" fill="#2a8ad0" textLength="26.2" lengthAdjust="spacingAndGlyphs" >560</text>
<text x="534.7" y="752.7" font-size="9" text-anchor="start" font-weight="bold" fill="#2a8ad0" textLength="10.3" lengthAdjust="spacingAndGlyphs" >+8</text>
<polyline points="567.3,744.4 545.5,739.2" fill="none" stroke="#2a8ad0" stroke-width="1.1" stroke-linejoin="round" />
<polygon points="535.3,736.7 547.3,735.8 545.6,743.0" fill="#2a8ad0" stroke="none" stroke-width="1.2" stroke-linejoin="round" />
<polyline points="609.3,755.3 636.4,760.7" fill="none" stroke="#2a8ad0" stroke-width="1.1" stroke-linejoin="round" />
<polygon points="646.7,762.7 634.7,764.1 636.1,756.8" fill="#2a8ad0" stroke="none" stroke-width="1.2" stroke-linejoin="round" />
<text x="571.3" y="753.7" font-size="12.5" text-anchor="start" font-weight="normal" fill="#2a8ad0" textLength="24.7" lengthAdjust="spacingAndGlyphs" >500</text>
<polyline points="526.0,740.4 544.7,733.0" fill="none" stroke="#2a8ad0" stroke-width="1.1" stroke-linejoin="round" />
<polyline points="642.0,765.3 664.4,755.3" fill="none" stroke="#2a8ad0" stroke-width="1.1" stroke-linejoin="round" />
<polyline points="664.4,738.0 664.4,754.7" fill="none" stroke="#2a8ad0" stroke-width="1.1" stroke-linejoin="round" />
<polyline points="670.3,734.0 670.3,752.7" fill="none" stroke="#2a8ad0" stroke-width="1.1" stroke-linejoin="round" />
<polyline points="646.0,755.3 655.2,750.3" fill="none" stroke="#2a8ad0" stroke-width="1.1" stroke-linejoin="round" />
<polygon points="664.4,745.3 656.1,754.0 652.5,747.5" fill="#2a8ad0" stroke="none" stroke-width="1.2" stroke-linejoin="round" />
<polyline points="688.7,730.0 679.0,736.5" fill="none" stroke="#2a8ad0" stroke-width="1.1" stroke-linejoin="round" />
<polygon points="670.3,742.4 677.8,732.9 681.9,739.0" fill="#2a8ad0" stroke="none" stroke-width="1.2" stroke-linejoin="round" />
<text x="614" y="742" font-size="13.5" text-anchor="start" font-weight="normal" fill="#2a8ad0" textLength="44" lengthAdjust="spacingAndGlyphs" >min.35</text>
</svg></body></html>
